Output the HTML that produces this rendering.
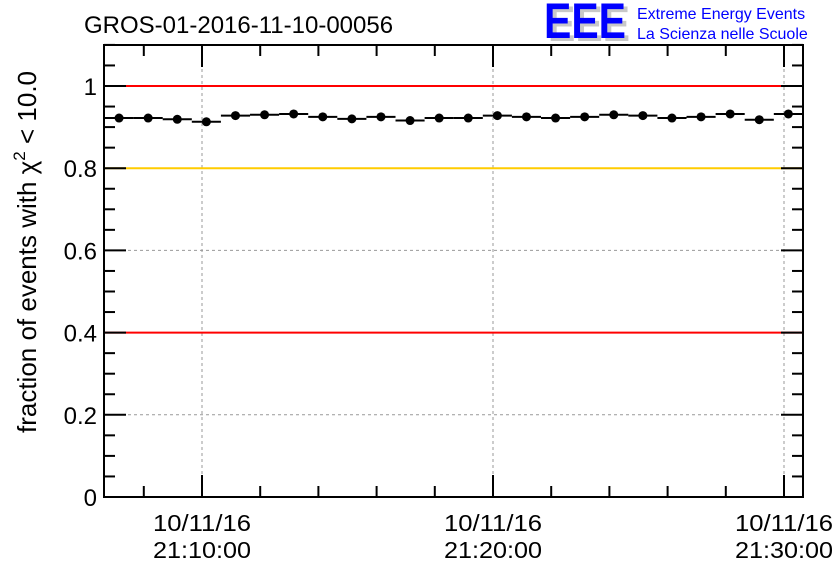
<!DOCTYPE html>
<html><head><meta charset="utf-8"><style>
body{margin:0;background:#fff;}
svg{display:block;font-family:"Liberation Sans",sans-serif;}
</style></head><body>
<svg width="836" height="572" viewBox="0 0 836 572">
<text x="84" y="33" font-size="24">GROS-01-2016-11-10-00056</text>
<g>
<text x="548" y="41" font-size="50" fill="#c8c8c8" font-weight="bold" textLength="82" lengthAdjust="spacingAndGlyphs">EEE</text>
<text x="544" y="38" font-size="50" fill="#0000ff" font-weight="bold" textLength="82" lengthAdjust="spacingAndGlyphs">EEE</text>
<text x="637" y="19" font-size="16" fill="#0000ff">Extreme Energy Events</text>
<text x="637" y="39" font-size="16" fill="#0000ff">La Scienza nelle Scuole</text>
</g>
<g id="grid"></g><g id="lines"></g><g id="ticks"></g><g id="data"></g>
<rect x="104" y="45" width="699" height="452" fill="none" stroke="#000" stroke-width="2"/>
<text transform="translate(36,252) rotate(-90)" text-anchor="middle" font-size="26">fraction of events with χ<tspan dy="-11" font-size="17">2</tspan><tspan dy="11"> &lt; 10.0</tspan></text>
</svg>
<script>
const times=[7.15,8.15,9.15,10.15,11.15,12.15,13.15,14.15,15.15,16.15,17.15,18.15,19.15,20.15,21.15,22.15,23.15,24.15,25.15,26.15,27.15,28.15,29.15,30.15];
const fractions=[0.922,0.922,0.919,0.913,0.928,0.930,0.932,0.925,0.920,0.925,0.916,0.922,0.922,0.928,0.925,0.922,0.925,0.930,0.928,0.922,0.925,0.932,0.918,0.932];
const yTicks=[0,0.2,0.4,0.6,0.8,1];
const yTickLabels=["0","0.2","0.4","0.6","0.8","1"];
const xMajor=[10,20,30];
const xLabels=[["10/11/16","21:10:00"],["10/11/16","21:20:00"],["10/11/16","21:30:00"]];
const refLines=[[1,"#ff0000"],[0.8,"#ffcc00"],[0.4,"#ff0000"]];
const NS="http://www.w3.org/2000/svg";
const X=t=>202+(t-10)*29.1, Y=v=>497-v*411;
function mk(tag,at,parent){const e=document.createElementNS(NS,tag);for(const k in at)e.setAttribute(k,at[k]);document.getElementById(parent).appendChild(e);return e;}
yTicks.forEach((v,i)=>{
 if(v>0&&v<1){const g=mk('line',{x1:104,x2:803,y1:Y(v),y2:Y(v),stroke:'#999','stroke-dasharray':'3,3','stroke-width':1},'grid');
 
 }
 const t=mk('text',{x:97,y:Y(v)+9,'text-anchor':'end','font-size':24},'ticks');t.textContent=yTickLabels[i];
 
 
});
for(let k=0;k<=22;k++){const v=k*0.05;const L=(k%4==0)?22:11;
 mk('line',{x1:104,x2:104+L,y1:Y(v),y2:Y(v),stroke:'#000','stroke-width':2},'ticks');
 mk('line',{x1:803,x2:803-L,y1:Y(v),y2:Y(v),stroke:'#000','stroke-width':2},'ticks');}
for(let m=8;m<=30;m+=2){const L=(m%10==0)?22:11;
 mk('line',{x1:X(m),x2:X(m),y1:497,y2:497-L,stroke:'#000','stroke-width':2},'ticks');
 mk('line',{x1:X(m),x2:X(m),y1:45,y2:45+L,stroke:'#000','stroke-width':2},'ticks');}
xMajor.forEach((m,i)=>{
 const g=mk('line',{x1:X(m),x2:X(m),y1:45,y2:497,stroke:'#999','stroke-dasharray':'3,3','stroke-width':1},'grid');
 
 
 xLabels[i].forEach((s,j)=>{const t=mk('text',{x:X(m),y:531+j*27,'text-anchor':'middle','font-size':23,textLength:98,lengthAdjust:'spacingAndGlyphs'},'ticks');t.textContent=s;
 
 });
});
refLines.forEach(r=>{const l=mk('line',{x1:104,x2:803,y1:Y(r[0]),y2:Y(r[0]),stroke:r[1],'stroke-width':2},'lines');
 
 });
times.forEach((t,i)=>{const y=Y(fractions[i]);
 const b=mk('line',{x1:X(t-0.5),x2:X(t+0.5),y1:y,y2:y,stroke:'#000','stroke-width':2},'data');
 
 
 const c=mk('circle',{cx:X(t),cy:y,r:4.5,fill:'#000'},'data');
 
 });
</script>
</body></html>
